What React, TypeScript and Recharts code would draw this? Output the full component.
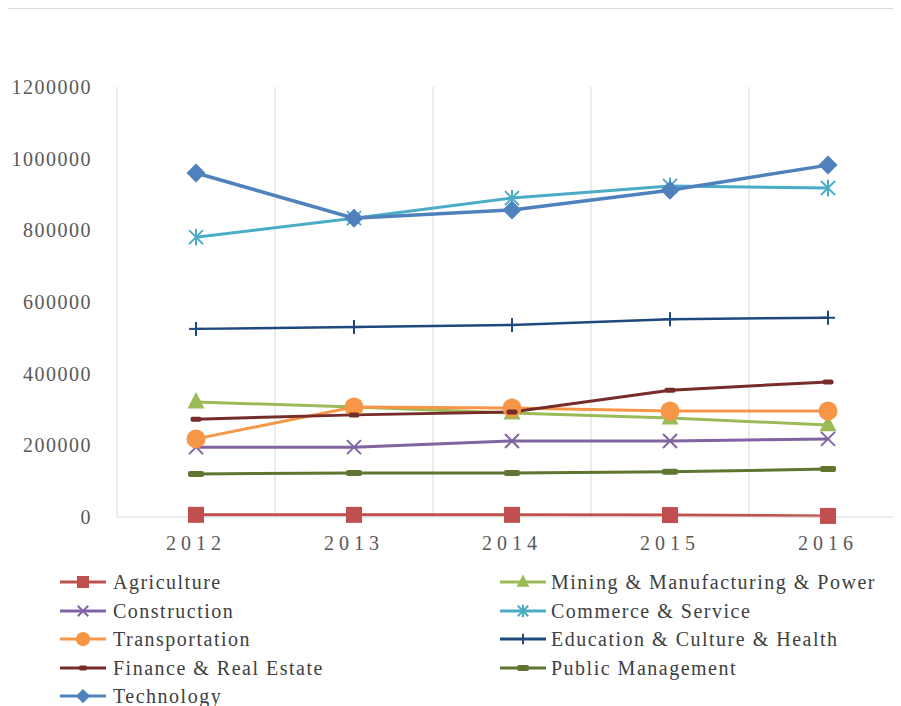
import React from 'react';
import { LineChart, Line, XAxis, YAxis, CartesianGrid, Legend } from 'recharts';

const years = ['2012', '2013', '2014', '2015', '2016'];
const agriculture = [6000, 6000, 6000, 5500, 3000];
const mining = [321000, 307000, 290000, 276000, 257000];
const construction = [195000, 195000, 212000, 212000, 218000];
const commerce = [781000, 834000, 890000, 924000, 918000];
const transportation = [218000, 307000, 304000, 296000, 296000];
const education = [525000, 530000, 536000, 552000, 556000];
const finance = [273000, 285000, 293000, 354000, 377000];
const publicMgmt = [120000, 123000, 123000, 126000, 134000];
const technology = [960000, 834000, 857000, 912000, 982000];
const yTicks = [0, 200000, 400000, 600000, 800000, 1000000, 1200000];

type MarkerKind = 'square' | 'triangle' | 'x' | 'star' | 'circle' | 'plus' | 'dashS' | 'dashL' | 'diamond';

interface SeriesDef {
  key: string;
  name: string;
  color: string;
  marker: MarkerKind;
  width: number;
  values: number[];
}

const series: SeriesDef[] = [
  { key: 'agriculture', name: 'Agriculture', color: '#C0504D', marker: 'square', width: 3, values: agriculture },
  { key: 'mining', name: 'Mining & Manufacturing & Power', color: '#9BBB59', marker: 'triangle', width: 3, values: mining },
  { key: 'construction', name: 'Construction', color: '#8064A2', marker: 'x', width: 3, values: construction },
  { key: 'commerce', name: 'Commerce & Service', color: '#4BACC6', marker: 'star', width: 3, values: commerce },
  { key: 'transportation', name: 'Transportation', color: '#F79646', marker: 'circle', width: 3, values: transportation },
  { key: 'education', name: 'Education & Culture & Health', color: '#1F497D', marker: 'plus', width: 2.5, values: education },
  { key: 'finance', name: 'Finance & Real Estate', color: '#772C2A', marker: 'dashS', width: 3, values: finance },
  { key: 'publicMgmt', name: 'Public Management', color: '#5F7530', marker: 'dashL', width: 3, values: publicMgmt },
  { key: 'technology', name: 'Technology', color: '#4F81BD', marker: 'diamond', width: 3.5, values: technology },
];

const data = years.map((year, i) => {
  const row: Record<string, string | number> = { year };
  series.forEach((s) => {
    row[s.key] = s.values[i];
  });
  return row;
});

function Marker({ kind, cx, cy, color, k }: { kind: MarkerKind; cx: number; cy: number; color: string; k: number }) {
  switch (kind) {
    case 'square': {
      const s = 16 * k;
      return <rect x={cx - s / 2} y={cy - s / 2} width={s} height={s} fill={color} />;
    }
    case 'triangle': {
      const s = 17 * k;
      return (
        <polygon
          points={`${cx},${cy - s * 0.58} ${cx + s / 2},${cy + s * 0.38} ${cx - s / 2},${cy + s * 0.38}`}
          fill={color}
        />
      );
    }
    case 'x': {
      const s = 7 * k;
      return (
        <g stroke={color} strokeWidth={2}>
          <line x1={cx - s} y1={cy - s} x2={cx + s} y2={cy + s} />
          <line x1={cx - s} y1={cy + s} x2={cx + s} y2={cy - s} />
        </g>
      );
    }
    case 'star': {
      const s = 7 * k;
      return (
        <g stroke={color} strokeWidth={2}>
          <line x1={cx - s} y1={cy - s} x2={cx + s} y2={cy + s} />
          <line x1={cx - s} y1={cy + s} x2={cx + s} y2={cy - s} />
          <line x1={cx} y1={cy - s * 1.2} x2={cx} y2={cy + s * 1.2} />
        </g>
      );
    }
    case 'circle':
      return <circle cx={cx} cy={cy} r={9.5 * k} fill={color} />;
    case 'plus': {
      const s = 7 * k;
      return (
        <g stroke={color} strokeWidth={2}>
          <line x1={cx} y1={cy - s} x2={cx} y2={cy + s} />
          <line x1={cx - s} y1={cy} x2={cx + s} y2={cy} />
        </g>
      );
    }
    case 'dashS': {
      const w = 11 * k;
      const h = 5;
      return <rect x={cx - w / 2} y={cy - h / 2} width={w} height={h} rx={2} fill={color} />;
    }
    case 'dashL': {
      const w = 16 * k;
      const h = 6;
      return <rect x={cx - w / 2} y={cy - h / 2} width={w} height={h} rx={2} fill={color} />;
    }
    case 'diamond': {
      const s = 9.5 * k;
      return (
        <polygon points={`${cx},${cy - s} ${cx + s},${cy} ${cx},${cy + s} ${cx - s},${cy}`} fill={color} />
      );
    }
    default:
      return null;
  }
}

const fontFamily = 'Liberation Serif, DejaVu Serif, serif';

function LegendContent() {
  return (
    <div style={{ position: 'relative', width: 840, height: 138, fontFamily }}>
      {series.map((def, i) => {
        const col = i % 2;
        const row = Math.floor(i / 2);
        const left = col === 0 ? 0 : 440;
        const top = row * 28.5;
        return (
          <div
            key={def.key}
            style={{ position: 'absolute', left, top, height: 28, display: 'flex', alignItems: 'center' }}
          >
            <svg width={46} height={28} style={{ display: 'block' }}>
              <line x1={0} y1={14} x2={46} y2={14} stroke={def.color} strokeWidth={3} />
              <Marker kind={def.marker} cx={23} cy={14} color={def.color} k={0.75} />
            </svg>
            <span
              style={{
                marginLeft: col === 0 ? 7 : 5,
                fontSize: 20,
                letterSpacing: 1.5,
                color: '#404040',
                whiteSpace: 'nowrap',
                lineHeight: '28px',
                fontFamily,
              }}
            >
              {def.name}
            </span>
          </div>
        );
      })}
    </div>
  );
}

export default function App() {
  return (
    <div
      style={{
        marginLeft: -3,
        marginTop: -1,
        borderTop: '2px solid #d9d9d9',
        borderLeft: '2px solid #d9d9d9',
        width: 894,
        height: 697,
        overflow: 'hidden',
        background: '#fff',
        fontFamily,
      }}
    >
      <LineChart width={901} height={697} data={data} margin={{ top: 78, right: 1, bottom: 0, left: 0 }}>
        <CartesianGrid
          horizontal={false}
          stroke="#d9d9d9"
          verticalCoordinatesGenerator={(args: any) => {
            const off = args.offset || { left: 110, width: 790 };
            return [0, 1, 2, 3, 4, 5].map((i) => off.left + (i * off.width) / 5);
          }}
        />
        <XAxis
          dataKey="year"
          interval={0}
          height={51}
          padding={{ left: 79, right: 79 }}
          axisLine={{ stroke: '#d9d9d9' }}
          tickLine={false}
          tickMargin={13}
          tick={{ fontSize: 20, fill: '#595959', fontFamily, letterSpacing: 5 } as any}
        />
        <YAxis
          width={110}
          domain={[0, 1200000]}
          ticks={yTicks}
          interval={0}
          axisLine={false}
          tickLine={false}
          tickMargin={19}
          tick={{ fontSize: 20, fill: '#595959', fontFamily, letterSpacing: 1.5 } as any}
        />
        <Legend
          verticalAlign="bottom"
          align="left"
          wrapperStyle={{ left: 53, bottom: 0, width: 840, height: 138 }}
          content={<LegendContent />}
        />
        {series.map((s) => (
          <Line
            key={s.key}
            type="linear"
            dataKey={s.key}
            name={s.name}
            stroke={s.color}
            strokeWidth={s.width}
            isAnimationActive={false}
            dot={(p: any) => (
              <Marker key={`${s.key}-${p.index}`} kind={s.marker} cx={p.cx} cy={p.cy} color={s.color} k={1} />
            )}
            activeDot={false}
          />
        ))}
      </LineChart>
    </div>
  );
}
